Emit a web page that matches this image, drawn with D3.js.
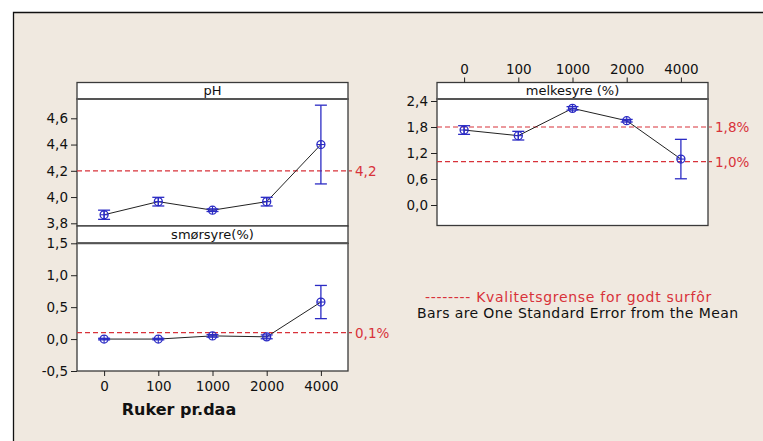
<!DOCTYPE html>
<html><head><meta charset="utf-8">
<script src="https://cdn.jsdelivr.net/npm/d3@7"></script>
<style>
html,body{margin:0;padding:0;background:#fff;}
svg text{font-family:"DejaVu Sans",Verdana,sans-serif;}
</style></head>
<body><svg id="c" width="763" height="441"></svg>
<script>
const categories = ["0","100","1000","2000","4000"];
const phMean  = [3.865, 3.965, 3.90, 3.965, 4.40];
const phSE    = [0.035, 0.033, 0.010, 0.033, 0.30];
const smorMean = [0.00, 0.00, 0.05, 0.035, 0.58];
const smorSE   = [0.012, 0.012, 0.02, 0.03, 0.26];
const melkMean = [1.73, 1.60, 2.23, 1.945, 1.06];
const melkSE   = [0.10, 0.10, 0.04, 0.03, 0.455];
const phTicks = [3.8, 4.0, 4.2, 4.4, 4.6];
const smorTicks = [-0.5, 0.0, 0.5, 1.0, 1.5];
const melkTicks = [0.0, 0.6, 1.2, 1.8, 2.4];
const phRef = [4.2], phRefLabels = ["4,2"];
const smorRef = [0.1], smorRefLabels = ["0,1%"];
const melkRef = [1.8, 1.0], melkRefLabels = ["1,8%", "1,0%"];
const panelTitles = ["pH", "smørsyre(%)", "melkesyre (%)"];
const xTitle = "Ruker pr.daa";
const legendRed = "-------- Kvalitetsgrense for godt surfôr";
const legendBlack = "Bars are One Standard Error from the Mean";

const svg = d3.select("#c");
const BG = "#f0e9e0", FRAME = "#3a3a3a", BLUE = "#2b2bc4", RED = "#d8323a";
const TICKFS = 13.5;
svg.append("rect").attr("x",0).attr("y",0).attr("width",763).attr("height",441).attr("fill","#fff");
svg.append("rect").attr("x",13).attr("y",12).attr("width",760).attr("height",440).attr("fill",BG);
svg.append("path").attr("d","M13.5,441V12.5H763").attr("fill","none").attr("stroke","#111").attr("stroke-width",1.3);

const fmt = v => d3.format(".1f")(v).replace(".", ",").replace("\u2212","-");

function drawPanel(o){
  const g = svg.append("g");
  g.append("rect").attr("x",o.x0).attr("y",o.hy0).attr("width",o.x1-o.x0).attr("height",o.hy1-o.hy0)
    .attr("fill","#fff").attr("stroke",FRAME).attr("stroke-width",1.3);
  g.append("text").attr("x",(o.x0+o.x1)/2).attr("y",(o.hy0+o.hy1)/2+4.5).attr("text-anchor","middle")
    .attr("font-size",13).attr("fill","#111").text(o.title);
  g.append("rect").attr("x",o.x0).attr("y",o.hy1).attr("width",o.x1-o.x0).attr("height",o.py1-o.hy1)
    .attr("fill","#fff").attr("stroke",FRAME).attr("stroke-width",1.3);
  g.append("line").attr("x1",o.x0).attr("x2",o.x1).attr("y1",o.hy1).attr("y2",o.hy1)
    .attr("stroke","#555").attr("stroke-width",2);
  const x = d3.scalePoint().domain(categories).range([o.x0,o.x1]).padding(0.5);
  const y = d3.scaleLinear().domain(o.dom).range(o.rng);
  const ya = g.append("g").attr("transform",`translate(${o.x0},0)`)
    .call(d3.axisLeft(y).tickValues(o.ticks).tickFormat(fmt).tickSize(6).tickPadding(3));
  ya.select(".domain").remove();
  ya.selectAll("line").attr("stroke","#222");
  ya.selectAll("text").attr("font-size",TICKFS).attr("fill","#111").style("font-family","DejaVu Sans");
  o.refs.forEach((r,i)=>{
    g.append("line").attr("x1",o.x0).attr("x2",o.x1+4).attr("y1",y(r)).attr("y2",y(r))
      .attr("stroke",RED).attr("stroke-width",1.2).attr("stroke-dasharray","5,3");
    g.append("text").attr("x",o.x1+7).attr("y",y(r)+5).attr("font-size",TICKFS).attr("fill",RED).text(o.refLabels[i]);
  });
  g.append("path").datum(o.mean).attr("fill","none").attr("stroke","#222").attr("stroke-width",1)
    .attr("d", d3.line().x((d,i)=>x(categories[i])).y(d=>y(d)));
  o.mean.forEach((m,i)=>{
    const cx = x(categories[i]), se = o.se[i];
    const yt = y(m+se), yb = y(m-se);
    g.append("line").attr("x1",cx).attr("x2",cx).attr("y1",yt).attr("y2",yb).attr("stroke",BLUE).attr("stroke-width",1.3);
    [yt,yb].forEach(yy=>g.append("line").attr("x1",cx-6).attr("x2",cx+6).attr("y1",yy).attr("y2",yy).attr("stroke",BLUE).attr("stroke-width",1.3));
    const cy = y(m);
    g.append("circle").attr("cx",cx).attr("cy",cy).attr("r",4).attr("fill","none").attr("stroke",BLUE).attr("stroke-width",1.3);
    g.append("line").attr("x1",cx-4).attr("x2",cx+4).attr("y1",cy).attr("y2",cy).attr("stroke",BLUE).attr("stroke-width",1.1);
    g.append("line").attr("x1",cx).attr("x2",cx).attr("y1",cy-4).attr("y2",cy+4).attr("stroke",BLUE).attr("stroke-width",1.1);
  });
  return {x,y,g};
}

const L0 = 77, L1 = 348, R0 = 437, R1 = 708;
drawPanel({x0:L0,x1:L1,hy0:82.5,hy1:99,py1:226,title:panelTitles[0],dom:[3.8,4.6],rng:[223.3,118.3],
  ticks:phTicks,refs:phRef,refLabels:phRefLabels,mean:phMean,se:phSE});
const sm = drawPanel({x0:L0,x1:L1,hy0:226,hy1:243.3,py1:371,title:panelTitles[1],dom:[-0.5,1.5],rng:[371,243.3],
  ticks:smorTicks,refs:smorRef,refLabels:smorRefLabels,mean:smorMean,se:smorSE});
const mk = drawPanel({x0:R0,x1:R1,hy0:82.5,hy1:99,py1:225.5,title:panelTitles[2],dom:[0,2.4],rng:[205,101],
  ticks:melkTicks,refs:melkRef,refLabels:melkRefLabels,mean:melkMean,se:melkSE});

const xb = svg.append("g").attr("transform","translate(0,371)")
  .call(d3.axisBottom(sm.x).tickSize(5).tickPadding(5));
xb.select(".domain").remove();
xb.selectAll("line").attr("stroke","#222");
xb.selectAll("text").attr("font-size",TICKFS).attr("fill","#111").style("font-family","DejaVu Sans");
const xt = svg.append("g").attr("transform","translate(0,82.5)")
  .call(d3.axisTop(mk.x).tickSize(5).tickPadding(4));
xt.select(".domain").remove();
xt.selectAll("line").attr("stroke","#222");
xt.selectAll("text").attr("font-size",TICKFS).attr("fill","#111").style("font-family","DejaVu Sans");

svg.append("text").attr("x",179).attr("y",415).attr("text-anchor","middle").attr("font-size",16)
  .attr("font-weight","bold").attr("fill","#111").text(xTitle);

svg.append("text").attr("x",425).attr("y",301.5).attr("font-size",14).attr("letter-spacing",0.7)
  .attr("fill",RED).text(legendRed);
svg.append("text").attr("x",417).attr("y",318).attr("font-size",14).attr("letter-spacing",0.4)
  .attr("fill","#111").text(legendBlack);
</script></body></html>
